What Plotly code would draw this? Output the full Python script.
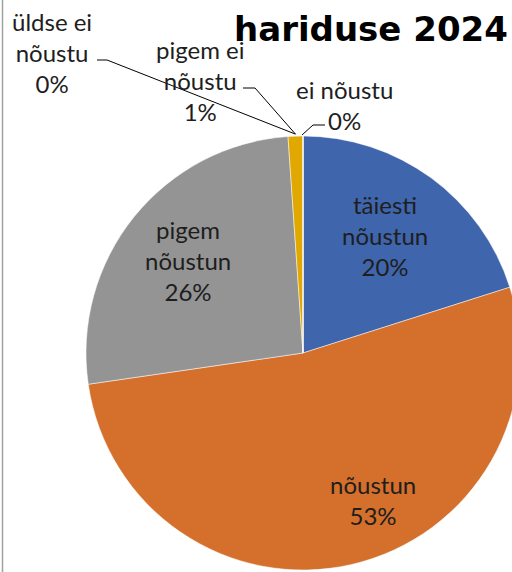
import math
import plotly.graph_objects as go

# ---- data ----
categories = ["täiesti nõustun", "nõustun", "pigem nõustun",
              "pigem ei nõustu", "ei nõustu", "üldse ei nõustu"]
values = [20.1, 52.6, 26.2, 1.1, 0.0, 0.0]
label_lines = ["täiesti<br>nõustun", "nõustun", "pigem<br>nõustun",
               "pigem ei<br>nõustu", "ei nõustu", "üldse ei<br>nõustu"]
title_text = "hariduse 2024"

# ---- style ----
colors = ["#3F65AC", "#D46F2C", "#949494", "#E0A800", "#5B9BD5", "#70AD47"]
FONT = "Lato, 'Open Sans', sans-serif"
TXT = "#1e1e1e"
W, H = 520, 572
CX, CY, R = 303, 353, 217  # pie centre / radius in px (top-left origin)

total = sum(values)
pcts = [round(v / total * 100) for v in values]

fig = go.Figure(go.Pie(
    labels=categories, values=values,
    textinfo="none",
    sort=False, direction="clockwise", rotation=0,
    marker=dict(colors=colors, line=dict(color="white", width=0.5)),
    domain=dict(x=[(CX - R) / W, min((CX + R) / W, 1.0)],
                y=[1 - (CY + R) / H, 1 - (CY - R) / H]),
    showlegend=False, hoverinfo="label+percent",
))

def px(x, y):
    return x / W, 1 - y / H

def slice_point(idx, frac_in_slice=0.5, rr=1.0):
    start = sum(values[:idx]) / total
    f = start + frac_in_slice * values[idx] / total
    th = 2 * math.pi * f
    return CX + R * rr * math.sin(th), CY - R * rr * math.cos(th)

annotations = []
shapes = []
# data label positions (px centres)
label_pos = {0: (385, 235), 1: (373, 500), 2: (188, 260),
             3: (200, 80), 4: (344, 105), 5: (52, 52)}
for i, (x, y) in label_pos.items():
    xp, yp = px(x, y)
    annotations.append(dict(text=f"{label_lines[i]}<br>{pcts[i]}%", x=xp, y=yp,
                            xref="paper", yref="paper", showarrow=False,
                            font=dict(family=FONT, size=24, color=TXT),
                            xanchor="center", yanchor="middle"))

# leader lines
ax, ay = slice_point(3, 0.5, 1.0)
tx, ty = slice_point(4, 0.0, 1.0)
leaders = [
    [(97, 60), (107, 60), (ax, ay - 2)],
    [(243, 88), (255, 88), (ax, ay - 2)],
    [(tx - 1, ty - 1), (313, 125), (325, 125)],
]
for pts in leaders:
    path = "M " + " L ".join(f"{px(x, y)[0]},{px(x, y)[1]}" for x, y in pts)
    shapes.append(dict(type="path", path=path, xref="paper", yref="paper",
                       line=dict(color="#000000", width=1)))

# left chart border
shapes.append(dict(type="line", x0=2.5 / W, x1=2.5 / W, y0=0, y1=1,
                   xref="paper", yref="paper", line=dict(color="#a0a0a0", width=1.5)))

tx_, ty_ = px(371, 29)
annotations.append(dict(text=f"<b>{title_text}</b>", x=tx_, y=ty_, xref="paper", yref="paper",
                        showarrow=False, xanchor="center", yanchor="middle",
                        font=dict(family="'DejaVu Sans', sans-serif", size=34, color="#000000")))

fig.update_layout(width=W, height=H, margin=dict(l=0, r=0, t=0, b=0),
                  paper_bgcolor="white", plot_bgcolor="white",
                  annotations=annotations, shapes=shapes)

fig.write_html("out.html", config={"displayModeBar": False},
               post_script="document.body.style.margin='0';document.body.style.overflow='hidden';")
